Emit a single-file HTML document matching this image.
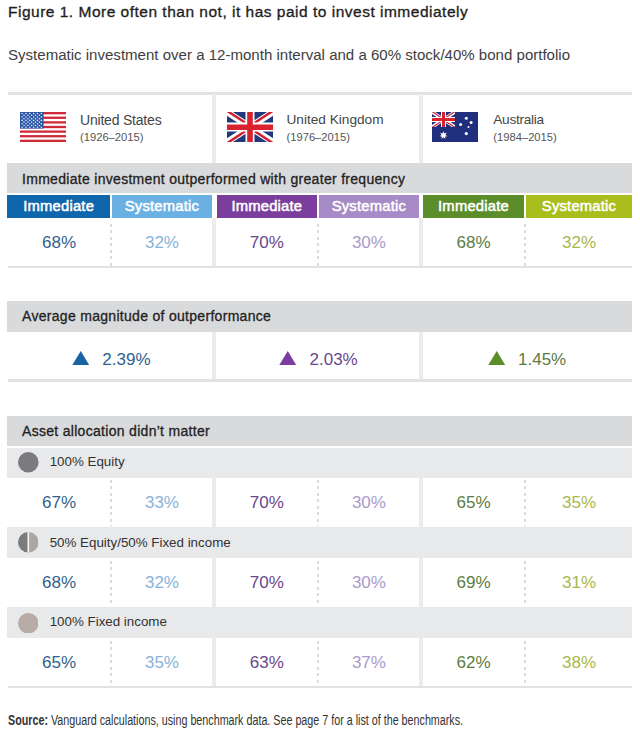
<!DOCTYPE html>
<html><head><meta charset="utf-8">
<style>
html,body{margin:0;padding:0;background:#fff;}
body{width:640px;height:733px;position:relative;overflow:hidden;font-family:"Liberation Sans",sans-serif;}
.a{position:absolute;}
.t{position:absolute;white-space:nowrap;line-height:1;}
.c{position:absolute;white-space:nowrap;line-height:1;text-align:center;}
.bar{position:absolute;left:7.3px;width:624.8px;background:#d9dadc;}
.sub{position:absolute;left:7.3px;width:624.8px;background:#e8e9ea;}
.rule{position:absolute;left:8px;width:624px;background:#e2e2e2;}
.sep{position:absolute;width:4px;background:#ececec;}
.dot{position:absolute;width:2px;background:repeating-linear-gradient(to bottom,#dcdcdc 0,#dcdcdc 3px,transparent 3px,transparent 6.45px);}
.lab{position:absolute;top:195px;height:23px;color:#fff;font-size:14.8px;letter-spacing:0.2px;-webkit-text-stroke:0.5px #fff;line-height:22px;text-align:center;}
.v{position:absolute;white-space:nowrap;line-height:1;text-align:center;font-size:17px;}
.hd{font-size:14px;letter-spacing:0.3px;-webkit-text-stroke:0.3px #222;color:#222;}
.sh{font-size:13.35px;color:#333;}
</style></head><body>

<!-- Title -->
<div class="t" style="left:8px;top:4.4px;font-size:15.5px;letter-spacing:0.5px;-webkit-text-stroke:0.33px #1f1f1f;color:#1f1f1f;">Figure 1. More often than not, it has paid to invest immediately</div>
<div class="t" style="left:8px;top:46.8px;font-size:15.05px;color:#3e3e3e;">Systematic investment over a 12-month interval and a 60% stock/40% bond portfolio</div>

<!-- top rule -->
<div class="rule" style="top:91.5px;height:3px;"></div>
<!-- separators country row -->
<div class="sep" style="left:212px;top:94px;height:69px;"></div>
<div class="sep" style="left:419px;top:94px;height:69px;"></div>

<!-- Flags -->
<svg class="a" style="left:20px;top:112px" width="46" height="30" viewBox="0 0 46 30">
  <rect width="46" height="30" fill="#fff"/>
  <g fill="#cf2a38"><rect y="0.00" width="46" height="2.31"/><rect y="4.62" width="46" height="2.31"/><rect y="9.23" width="46" height="2.31"/><rect y="13.85" width="46" height="2.31"/><rect y="18.46" width="46" height="2.31"/><rect y="23.08" width="46" height="2.31"/><rect y="27.69" width="46" height="2.31"/></g>
  <rect width="23.6" height="16.6" fill="#2b55a2"/>
  <g fill="#e4efff"><circle cx="2.10" cy="1.50" r="0.78"/><circle cx="5.95" cy="1.50" r="0.78"/><circle cx="9.80" cy="1.50" r="0.78"/><circle cx="13.65" cy="1.50" r="0.78"/><circle cx="17.50" cy="1.50" r="0.78"/><circle cx="21.35" cy="1.50" r="0.78"/><circle cx="4.00" cy="3.22" r="0.78"/><circle cx="7.85" cy="3.22" r="0.78"/><circle cx="11.70" cy="3.22" r="0.78"/><circle cx="15.55" cy="3.22" r="0.78"/><circle cx="19.40" cy="3.22" r="0.78"/><circle cx="2.10" cy="4.94" r="0.78"/><circle cx="5.95" cy="4.94" r="0.78"/><circle cx="9.80" cy="4.94" r="0.78"/><circle cx="13.65" cy="4.94" r="0.78"/><circle cx="17.50" cy="4.94" r="0.78"/><circle cx="21.35" cy="4.94" r="0.78"/><circle cx="4.00" cy="6.66" r="0.78"/><circle cx="7.85" cy="6.66" r="0.78"/><circle cx="11.70" cy="6.66" r="0.78"/><circle cx="15.55" cy="6.66" r="0.78"/><circle cx="19.40" cy="6.66" r="0.78"/><circle cx="2.10" cy="8.38" r="0.78"/><circle cx="5.95" cy="8.38" r="0.78"/><circle cx="9.80" cy="8.38" r="0.78"/><circle cx="13.65" cy="8.38" r="0.78"/><circle cx="17.50" cy="8.38" r="0.78"/><circle cx="21.35" cy="8.38" r="0.78"/><circle cx="4.00" cy="10.10" r="0.78"/><circle cx="7.85" cy="10.10" r="0.78"/><circle cx="11.70" cy="10.10" r="0.78"/><circle cx="15.55" cy="10.10" r="0.78"/><circle cx="19.40" cy="10.10" r="0.78"/><circle cx="2.10" cy="11.82" r="0.78"/><circle cx="5.95" cy="11.82" r="0.78"/><circle cx="9.80" cy="11.82" r="0.78"/><circle cx="13.65" cy="11.82" r="0.78"/><circle cx="17.50" cy="11.82" r="0.78"/><circle cx="21.35" cy="11.82" r="0.78"/><circle cx="4.00" cy="13.54" r="0.78"/><circle cx="7.85" cy="13.54" r="0.78"/><circle cx="11.70" cy="13.54" r="0.78"/><circle cx="15.55" cy="13.54" r="0.78"/><circle cx="19.40" cy="13.54" r="0.78"/><circle cx="2.10" cy="15.26" r="0.78"/><circle cx="5.95" cy="15.26" r="0.78"/><circle cx="9.80" cy="15.26" r="0.78"/><circle cx="13.65" cy="15.26" r="0.78"/><circle cx="17.50" cy="15.26" r="0.78"/><circle cx="21.35" cy="15.26" r="0.78"/></g>
</svg>

<svg class="a" style="left:226.5px;top:112px" width="46" height="30" viewBox="0 0 46 30">
  <defs><clipPath id="ukc"><rect width="46" height="30"/></clipPath></defs>
  <g clip-path="url(#ukc)">
  <rect width="46" height="30" fill="#223a7c"/>
  <path d="M0,0 L46,30 M46,0 L0,30" stroke="#fff" stroke-width="6.4"/>
  <path d="M0,-1.2 L23,13.8 M46,-1.2 L24,13.2 M0,31.2 L22,16.8 M46,31.2 L23,16.2" stroke="#d1202f" stroke-width="2.5"/>
  <path d="M23,0 V30 M0,15 H46" stroke="#fff" stroke-width="9"/>
  <path d="M23,0 V30 M0,15.3 H46" stroke="#d8232f" stroke-width="5.6"/>
  </g>
</svg>

<svg class="a" style="left:432.2px;top:112px" width="46" height="30" viewBox="0 0 46 30">
  <defs><clipPath id="auc"><rect width="23" height="15"/></clipPath></defs>
  <rect width="46" height="30" fill="#1f2f7d"/>
  <g clip-path="url(#auc)">
  <path d="M0,0 L23,15 M23,0 L0,15" stroke="#fff" stroke-width="3.4"/>
  <path d="M0,-0.5 L11.5,7 M23,-0.5 L12.3,6.5 M0,15.5 L10.7,8.5 M23,15.5 L11.5,8" stroke="#d1202f" stroke-width="1.1"/>
  <path d="M11.5,0 V15 M0,7.5 H23" stroke="#fff" stroke-width="5"/>
  <path d="M11.5,0 V15 M0,7.5 H23" stroke="#d8232f" stroke-width="3"/>
  </g>
  <g fill="#fff">
    <polygon points="11.5,19.2 12.4,21.5 14.8,20.8 13.4,22.9 15.5,24.2 13.1,24.5 13.4,26.9 11.5,25.3 9.6,26.9 9.9,24.5 7.5,24.2 9.6,22.9 8.2,20.8 10.6,21.5"/>
    <circle cx="34.3" cy="6.2" r="1.5"/>
    <circle cx="39.1" cy="10.6" r="1.5"/>
    <circle cx="28.6" cy="12.4" r="1.5"/>
    <circle cx="36.5" cy="15" r="1"/>
    <circle cx="34.3" cy="21.6" r="1.6"/>
  </g>
</svg>

<!-- Country labels -->
<div class="t" style="left:80px;top:112.7px;font-size:14px;letter-spacing:-0.2px;color:#454545;">United States</div>
<div class="t" style="left:80px;top:131.8px;font-size:11.2px;color:#555;">(1926–2015)</div>
<div class="t" style="left:286.5px;top:112.7px;font-size:13.65px;color:#454545;">United Kingdom</div>
<div class="t" style="left:286.5px;top:131.8px;font-size:11.2px;color:#555;">(1976–2015)</div>
<div class="t" style="left:493.3px;top:112.7px;font-size:13.6px;letter-spacing:-0.25px;color:#454545;">Australia</div>
<div class="t" style="left:493.3px;top:131.8px;font-size:11.2px;color:#555;">(1984–2015)</div>

<!-- Section 1 -->
<div class="bar" style="top:163px;height:30px;"></div>
<div class="t hd" style="left:22px;top:171.7px;">Immediate investment outperformed with greater frequency</div>

<div class="lab" style="left:7.3px;width:102.7px;background:#1066ab;">Immediate</div>
<div class="lab" style="left:111.7px;width:100.5px;background:#6bb0e2;">Systematic</div>
<div class="lab" style="left:217px;width:99.7px;background:#7b3e9d;">Immediate</div>
<div class="lab" style="left:318.9px;width:100px;background:#a68bc6;">Systematic</div>
<div class="lab" style="left:423px;width:101px;background:#5b8e2a;">Immediate</div>
<div class="lab" style="left:526px;width:106px;background:#a9bd1c;">Systematic</div>

<div class="sep" style="left:212px;top:218px;height:48px;"></div>
<div class="sep" style="left:419px;top:218px;height:48px;"></div>
<div class="dot" style="left:109.8px;top:224px;height:42px;"></div>
<div class="dot" style="left:316.8px;top:224px;height:42px;"></div>
<div class="dot" style="left:524px;top:224px;height:42px;"></div>

<div class="v" style="left:8px;width:102px;top:234.4px;color:#30618f;">68%</div>
<div class="v" style="left:111.7px;width:100.5px;top:234.4px;color:#88b3da;">32%</div>
<div class="v" style="left:217px;width:99.7px;top:234.4px;color:#69488d;">70%</div>
<div class="v" style="left:318.9px;width:100px;top:234.4px;color:#a99ac9;">30%</div>
<div class="v" style="left:423px;width:101px;top:234.4px;color:#5d7b40;">68%</div>
<div class="v" style="left:526px;width:106px;top:234.4px;color:#a8b84c;">32%</div>

<div class="rule" style="top:266px;height:2px;"></div>

<!-- Section 2 -->
<div class="bar" style="top:301px;height:31px;"></div>
<div class="t hd" style="left:22px;top:309px;">Average magnitude of outperformance</div>
<div class="sep" style="left:212px;top:332px;height:47px;"></div>
<div class="sep" style="left:419px;top:332px;height:47px;"></div>

<svg class="a" style="left:72px;top:350.5px" width="17.5" height="14.5" viewBox="0 0 17.5 14.5"><polygon points="8.75,0 17.5,14.5 0,14.5" fill="#1a63a3"/></svg>
<div class="t" style="left:102.3px;top:350.8px;font-size:17px;color:#30618f;">2.39%</div>

<svg class="a" style="left:279px;top:350.5px" width="17.5" height="14.5" viewBox="0 0 17.5 14.5"><polygon points="8.75,0 17.5,14.5 0,14.5" fill="#7b3e9d"/></svg>
<div class="t" style="left:309.5px;top:350.8px;font-size:17px;color:#69488d;">2.03%</div>

<svg class="a" style="left:488px;top:350.5px" width="17.5" height="14.5" viewBox="0 0 17.5 14.5"><polygon points="8.75,0 17.5,14.5 0,14.5" fill="#5b8e2a"/></svg>
<div class="t" style="left:518px;top:350.8px;font-size:17px;color:#5d7b40;">1.45%</div>

<div class="rule" style="top:379px;height:2.5px;"></div>

<!-- Section 3 -->
<div class="bar" style="top:415.6px;height:30.3px;"></div>
<div class="t hd" style="left:22px;top:423.8px;">Asset allocation didn’t matter</div>

<div class="sub" style="top:448px;height:29.6px;"></div>
<svg class="a" style="left:18px;top:452.3px" width="20.6" height="20.6" viewBox="0 0 20 20"><circle cx="10" cy="10" r="10" fill="#7b7b7d"/></svg>
<div class="t sh" style="left:49.7px;top:455.4px;">100% Equity</div>

<div class="sep" style="left:212px;top:477.6px;height:49.7px;"></div>
<div class="sep" style="left:419px;top:477.6px;height:49.7px;"></div>
<div class="dot" style="left:109.8px;top:480px;height:46px;"></div>
<div class="dot" style="left:316.8px;top:480px;height:46px;"></div>
<div class="dot" style="left:524px;top:480px;height:46px;"></div>
<div class="v" style="left:8px;width:102px;top:494px;color:#30618f;">67%</div>
<div class="v" style="left:111.7px;width:100.5px;top:494px;color:#88b3da;">33%</div>
<div class="v" style="left:217px;width:99.7px;top:494px;color:#69488d;">70%</div>
<div class="v" style="left:318.9px;width:100px;top:494px;color:#a99ac9;">30%</div>
<div class="v" style="left:423px;width:101px;top:494px;color:#5d7b40;">65%</div>
<div class="v" style="left:526px;width:106px;top:494px;color:#a8b84c;">35%</div>

<div class="sub" style="top:527.3px;height:30.6px;"></div>
<svg class="a" style="left:17.8px;top:532.2px" width="20.6" height="20.6" viewBox="0 0 20 20"><path d="M10,0 A10,10 0 0 0 10,20 Z" fill="#7b7b7d"/><path d="M10,0 A10,10 0 0 1 10,20 Z" fill="#aba6a3"/><rect x="9.2" y="0" width="1.6" height="20" fill="#f4f2ef"/></svg>
<div class="t sh" style="left:49.7px;top:535.9px;">50% Equity/50% Fixed income</div>

<div class="sep" style="left:212px;top:557.9px;height:48.7px;"></div>
<div class="sep" style="left:419px;top:557.9px;height:48.7px;"></div>
<div class="dot" style="left:109.8px;top:561px;height:45px;"></div>
<div class="dot" style="left:316.8px;top:561px;height:45px;"></div>
<div class="dot" style="left:524px;top:561px;height:45px;"></div>
<div class="v" style="left:8px;width:102px;top:573.6px;color:#30618f;">68%</div>
<div class="v" style="left:111.7px;width:100.5px;top:573.6px;color:#88b3da;">32%</div>
<div class="v" style="left:217px;width:99.7px;top:573.6px;color:#69488d;">70%</div>
<div class="v" style="left:318.9px;width:100px;top:573.6px;color:#a99ac9;">30%</div>
<div class="v" style="left:423px;width:101px;top:573.6px;color:#5d7b40;">69%</div>
<div class="v" style="left:526px;width:106px;top:573.6px;color:#a8b84c;">31%</div>

<div class="sub" style="top:606.6px;height:31.3px;"></div>
<svg class="a" style="left:17.6px;top:612.8px" width="20.6" height="20.6" viewBox="0 0 20 20"><circle cx="10" cy="10" r="10" fill="#b8ada6"/></svg>
<div class="t sh" style="left:49.7px;top:615px;">100% Fixed income</div>

<div class="sep" style="left:212px;top:637.9px;height:48px;"></div>
<div class="sep" style="left:419px;top:637.9px;height:48px;"></div>
<div class="dot" style="left:109.8px;top:641px;height:45px;"></div>
<div class="dot" style="left:316.8px;top:641px;height:45px;"></div>
<div class="dot" style="left:524px;top:641px;height:45px;"></div>
<div class="v" style="left:8px;width:102px;top:653.7px;color:#30618f;">65%</div>
<div class="v" style="left:111.7px;width:100.5px;top:653.7px;color:#88b3da;">35%</div>
<div class="v" style="left:217px;width:99.7px;top:653.7px;color:#69488d;">63%</div>
<div class="v" style="left:318.9px;width:100px;top:653.7px;color:#a99ac9;">37%</div>
<div class="v" style="left:423px;width:101px;top:653.7px;color:#5d7b40;">62%</div>
<div class="v" style="left:526px;width:106px;top:653.7px;color:#a8b84c;">38%</div>

<div class="rule" style="top:685.5px;height:2px;"></div>

<!-- Source -->
<div class="t" style="left:8px;top:714.4px;font-size:13.8px;color:#333;transform:scaleX(0.778);transform-origin:0 0;"><b>Source:</b> Vanguard calculations, using benchmark data. See page 7 for a list of the benchmarks.</div>

</body></html>
